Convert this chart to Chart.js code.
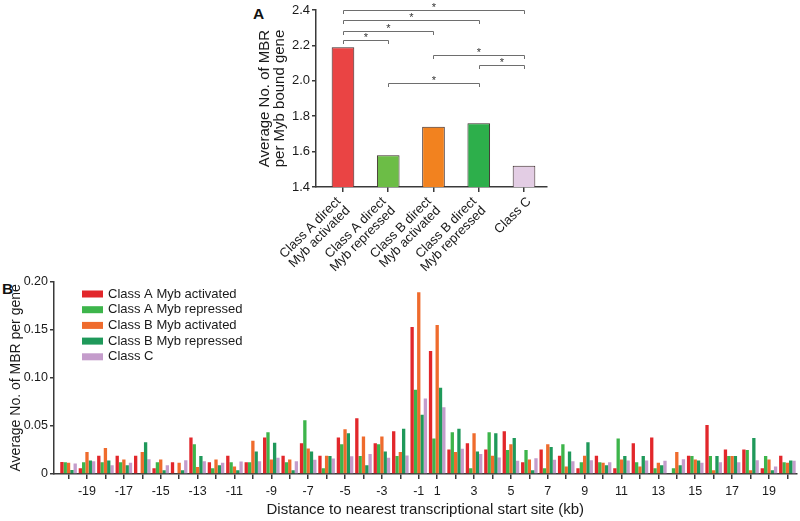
<!DOCTYPE html>
<html><head><meta charset="utf-8">
<script src="https://cdn.jsdelivr.net/npm/chart.js@4.4.0/dist/chart.umd.min.js"></script>
<style>
html,body{margin:0;padding:0;background:#fff;width:800px;height:521px;overflow:hidden;font-family:"Liberation Sans",Arial,sans-serif;}
#a{position:absolute;left:240px;top:0;}
#b{position:absolute;left:0;top:270px;}
.lab{position:absolute;font-weight:bold;font-size:15.5px;line-height:1;color:#111;}
</style></head><body>
<div class="lab" style="left:253px;top:6px">A</div>
<div class="lab" style="left:2px;top:281px">B</div>
<canvas id="a" width="320" height="280"></canvas>
<canvas id="b" width="800" height="251"></canvas>
<script>
// ---------- Panel A data ----------
const geneClasses = [
  ['Class A direct', 'Myb activated'],
  ['Class A direct', 'Myb repressed'],
  ['Class B direct', 'Myb activated'],
  ['Class B direct', 'Myb repressed'],
  ['Class C']
];
const avgMbrPerGene = [2.19, 1.58, 1.74, 1.76, 1.52];
const yTicksA = [1.4, 1.6, 1.8, 2.0, 2.2, 2.4];
// significance brackets (from class index, to class index, height on y axis)
const bracketFrom  = [0, 0, 0, 0, 2, 3, 1];
const bracketTo    = [4, 3, 2, 1, 4, 4, 3];
const bracketLevel = [2.400, 2.341, 2.281, 2.228, 2.147, 2.088, 1.987];

// ---------- Panel B data ----------
const distanceKb = [-20,-19,-18,-17,-16,-15,-14,-13,-12,-11,-10,-9,-8,-7,-6,-5,-4,-3,-2,-1,
                    1,2,3,4,5,6,7,8,9,10,11,12,13,14,15,16,17,18,19,20];
const classAMybActivated = [0.0126,0.0060,0.0190,0.0190,0.0190,0.0060,0.0123,0.0380,0.0123,0.0190,
  0.0123,0.0380,0.0190,0.0320,0.0190,0.0380,0.0580,0.0320,0.0445,0.1530,
  0.1280,0.0255,0.0320,0.0255,0.0445,0.0123,0.0255,0.0190,0.0060,0.0190,
  0.0060,0.0320,0.0380,0.0000,0.0190,0.0510,0.0255,0.0255,0.0060,0.0190];
const classAMybRepressed = [0.0123,0.0123,0.0123,0.0123,0.0000,0.0123,0.0000,0.0310,0.0060,0.0123,
  0.0123,0.0434,0.0123,0.0560,0.0060,0.0310,0.0186,0.0310,0.0186,0.0875,
  0.0370,0.0434,0.0060,0.0434,0.0250,0.0250,0.0060,0.0310,0.0123,0.0123,
  0.0370,0.0123,0.0060,0.0060,0.0186,0.0186,0.0186,0.0250,0.0186,0.0123];
const classBMybActivated = [0.0116,0.0230,0.0270,0.0150,0.0230,0.0150,0.0116,0.0074,0.0150,0.0077,
  0.0347,0.0150,0.0150,0.0266,0.0190,0.0466,0.0390,0.0390,0.0230,0.1890,
  0.1550,0.0230,0.0424,0.0190,0.0310,0.0150,0.0310,0.0077,0.0190,0.0116,
  0.0150,0.0077,0.0116,0.0230,0.0150,0.0039,0.0186,0.0039,0.0150,0.0116];
const classBMybRepressed = [0.0042,0.0140,0.0140,0.0090,0.0330,0.0040,0.0040,0.0186,0.0090,0.0040,
  0.0235,0.0326,0.0040,0.0235,0.0186,0.0424,0.0090,0.0235,0.0470,0.0615,
  0.0896,0.0470,0.0235,0.0424,0.0375,0.0040,0.0280,0.0235,0.0330,0.0090,
  0.0186,0.0186,0.0090,0.0090,0.0140,0.0186,0.0186,0.0375,0.0040,0.0140];
const classC = [0.0110,0.0133,0.0090,0.0116,0.0154,0.0090,0.0143,0.0133,0.0116,0.0130,
  0.0133,0.0168,0.0133,0.0147,0.0160,0.0184,0.0207,0.0170,0.0193,0.0785,
  0.0694,0.0262,0.0207,0.0172,0.0137,0.0165,0.0147,0.0133,0.0143,0.0123,
  0.0140,0.0140,0.0137,0.0154,0.0116,0.0123,0.0123,0.0143,0.0077,0.0137];
const seriesNames = ['Class A Myb activated','Class A Myb repressed','Class B Myb activated','Class B Myb repressed','Class C'];
const yTicksB = [0, 0.05, 0.10, 0.15, 0.20];

// ---------- styles ----------
const FONT = '"Liberation Sans", Arial, sans-serif';
const AXIS = '#3a3a3a';
const TEXT = '#1a1a1a';
const colorsA = ['#EA4444', '#6CBD46', '#F2821F', '#2DAF4B', '#E3CDE4'];
const colorsB = ['#E2272B', '#3DB54B', '#EF6B2D', '#1F995A', '#C49CCB'];
const seriesB = [classAMybActivated, classAMybRepressed, classBMybActivated, classBMybRepressed, classC];

// ---------- Panel A ----------
const bracketPlugin = {
  id: 'brackets',
  afterDatasetsDraw(chart) {
    const {ctx, scales: {x, y}} = chart;
    ctx.save();
    ctx.strokeStyle = '#6e6e6e';
    ctx.lineWidth = 1;
    ctx.fillStyle = '#333';
    ctx.font = '11px ' + FONT;
    ctx.textAlign = 'center';
    ctx.textBaseline = 'middle';
    bracketFrom.forEach((f, k) => {
      const x1 = Math.round(x.getPixelForValue(f)) + 0.5;
      const x2 = Math.round(x.getPixelForValue(bracketTo[k])) + 0.5;
      const yy = Math.round(y.getPixelForValue(bracketLevel[k])) + 0.5;
      ctx.beginPath();
      ctx.moveTo(x1, yy + 3.5); ctx.lineTo(x1, yy); ctx.lineTo(x2, yy); ctx.lineTo(x2, yy + 3.5);
      ctx.stroke();
      ctx.fillText('*', (x1 + x2) / 2, yy - 3);
    });
    ctx.restore();
  }
};
// rotated class labels (right-aligned, block anchored at its top-right)
const classLabelPlugin = {
  id: 'classLabels',
  afterDraw(chart) {
    const {ctx, scales: {x}, chartArea} = chart;
    const step = 9.2;
    ctx.save();
    ctx.font = '13px ' + FONT;
    ctx.fillStyle = TEXT;
    ctx.textAlign = 'right';
    ctx.textBaseline = 'middle';
    geneClasses.forEach((lines, i) => {
      const px = x.getPixelForValue(i);
      const n = lines.length;
      lines.forEach((txt, k) => {
        const ex = px + 5 - step * (n - 1 - k);
        const ey = chartArea.bottom + 12.5 + step * k;
        ctx.save();
        ctx.translate(ex, ey);
        ctx.rotate(-Math.PI / 4);
        ctx.fillText(txt, 0, 0);
        ctx.restore();
      });
    });
    ctx.restore();
  }
};

new Chart(document.getElementById('a'), {
  type: 'bar',
  data: {
    labels: geneClasses,
    datasets: [{
      data: avgMbrPerGene.map((v, i) => ({x: i, y: v})),
      backgroundColor: colorsA,
      borderColor: '#3b2b2b',
      borderWidth: 1,
      categoryPercentage: 1,
      barPercentage: 0.5
    }]
  },
  options: {
    responsive: false, animation: false,
    layout: {padding: {top: 10, right: 13, left: 0, bottom: 0}},
    plugins: {legend: {display: false}, tooltip: {enabled: false}},
    scales: {
      x: {
        type: 'linear', min: -0.596, max: 4.508, offset: false,
        afterBuildTicks: s => { s.ticks = geneClasses.map((_, i) => ({value: i})); },
        afterFit: s => { s.height = 93; },
        grid: {drawOnChartArea: false, offset: false, tickLength: 5, color: AXIS, lineWidth: 1.5},
        border: {color: AXIS, width: 1.5},
        ticks: {autoSkip: false, maxRotation: 0, minRotation: 0, callback: () => ''}
      },
      y: {
        min: 1.4, max: 2.4,
        afterBuildTicks: s => { s.ticks = yTicksA.map(v => ({value: v})); },
        afterFit: s => { s.width = 76; },
        grid: {drawOnChartArea: false, tickLength: 4, color: AXIS, lineWidth: 1.5},
        border: {color: AXIS, width: 1.5},
        ticks: {padding: 2, color: TEXT, font: {family: FONT, size: 13}, callback: v => v.toFixed(1)},
        title: {display: true, text: ['Average No. of MBR', 'per Myb bound gene'], color: TEXT,
                font: {family: FONT, size: 15, lineHeight: 1.0}, padding: {top: 17.5, bottom: 0}}
      }
    }
  },
  plugins: [bracketPlugin, classLabelPlugin]
});

// ---------- Panel B ----------
const legendPlugin = {
  id: 'innerLegend',
  afterDraw(chart) {
    const {ctx, chartArea} = chart;
    ctx.save();
    ctx.font = '13px ' + FONT;
    ctx.textBaseline = 'middle';
    ctx.textAlign = 'left';
    chart.data.datasets.forEach((ds, i) => {
      const yc = chartArea.top + 12.3 + i * 15.7;
      ctx.fillStyle = ds.backgroundColor;
      ctx.fillRect(chartArea.left + 28, yc - 3.5, 21, 7);
      ctx.fillStyle = TEXT;
      ctx.fillText(ds.label, chartArea.left + 54, yc);
    });
    ctx.restore();
  }
};

new Chart(document.getElementById('b'), {
  type: 'bar',
  data: {
    datasets: seriesB.map((arr, k) => ({
      label: seriesNames[k],
      data: arr.map((v, i) => ({x: i, y: v})),
      backgroundColor: colorsB[k],
      borderWidth: 0,
      categoryPercentage: 0.9,
      barPercentage: 1.0
    }))
  },
  options: {
    responsive: false, animation: false,
    layout: {padding: {top: 11.7, right: 3.4, left: 0, bottom: 0}},
    plugins: {legend: {display: false}, tooltip: {enabled: false}},
    scales: {
      x: {
        type: 'linear', min: -0.79, max: 39.5, offset: false,
        afterBuildTicks: s => { s.ticks = distanceKb.map((_, i) => ({value: i})); },
        afterFit: s => { s.height = 47; },
        grid: {drawOnChartArea: false, offset: false, tickLength: 5, color: AXIS, lineWidth: 1.5},
        border: {color: AXIS, width: 1.5},
        ticks: {autoSkip: false, maxRotation: 0, minRotation: 0, padding: 5, color: TEXT,
                font: {family: FONT, size: 12.5},
                callback: v => { const d = distanceKb[v]; return (d !== undefined && Math.abs(d) % 2 === 1) ? String(d) : ''; }},
        title: {display: true, text: 'Distance to nearest transcriptional start site (kb)', color: TEXT,
                font: {family: FONT, size: 15}, padding: {top: 0, bottom: 2}}
      },
      y: {
        min: 0, max: 0.2,
        afterBuildTicks: s => { s.ticks = yTicksB.map(v => ({value: v})); },
        afterFit: s => { s.width = 54; },
        grid: {drawOnChartArea: false, tickLength: 4, color: AXIS, lineWidth: 1.5},
        border: {color: AXIS, width: 1.5},
        ticks: {padding: 2, color: TEXT, font: {family: FONT, size: 12.5},
                callback: v => v === 0 ? '0' : v.toFixed(2)},
        title: {display: true, text: 'Average No. of MBR per gene', color: TEXT,
                font: {family: FONT, size: 14}, padding: {top: 7.6, bottom: 0}}
      }
    }
  },
  plugins: [legendPlugin]
});
</script>
</body></html>
